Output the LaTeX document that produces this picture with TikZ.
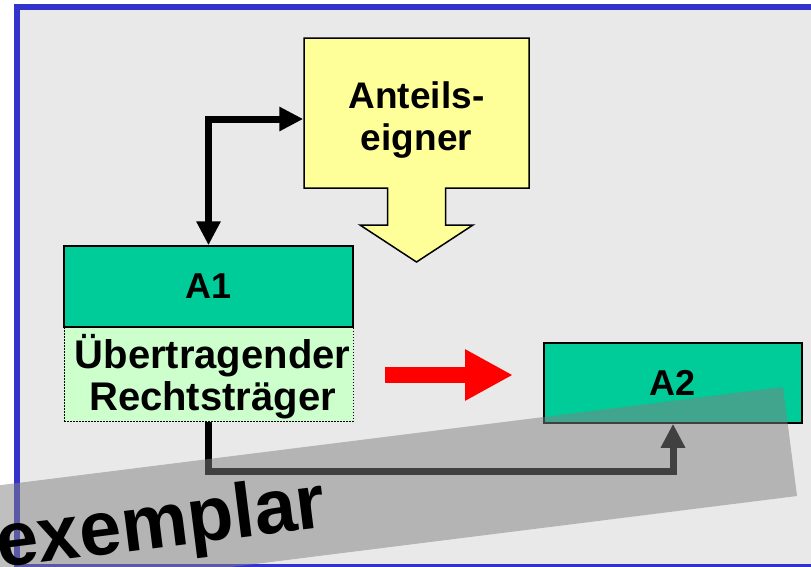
\documentclass[tikz,border=0pt]{standalone}
\usepackage{fontspec}
\setmainfont{Liberation Sans}
\usetikzlibrary{arrows.meta,calc}

\definecolor{frameblue}{HTML}{3333CC}
\definecolor{panelgray}{HTML}{E9E9E9}
\definecolor{boxgreen}{HTML}{00CC99}
\definecolor{palegreen}{HTML}{CCFFCC}
\definecolor{paleyellow}{HTML}{FFFF99}

\tikzset{
  entity/.style={draw=black, line width=1.5pt, fill=boxgreen, inner sep=0pt,
    outer sep=0.75pt, font=\fontsize{36}{42}\selectfont\bfseries},
  holder/.style={draw=black, line width=1pt, dash pattern=on 1.5pt off 1.5pt,
    fill=palegreen, inner sep=0pt, outer sep=0.5pt},
  biglabel/.style={inner sep=0pt, align=center,
    font=\fontsize{40}{42}\selectfont\bfseries},
  calloutbox/.style={fill=paleyellow, draw=black, line width=1.5pt, line join=miter},
  calloutlabel/.style={inner sep=0pt, align=center,
    font=\fontsize{37}{42}\selectfont\bfseries},
  conn/.style={draw=black, line width=7pt, line join=miter},
  fat/.tip={Triangle[length=24pt, width=23pt]},
  transfer/.style={draw=red, line width=16pt, -{Triangle[length=48pt, width=48pt]}},
  band/.style={fill=black!50, opacity=0.5},
  stamp/.style={inner sep=0pt, font=\fontsize{77}{77}\selectfont\bfseries}
}

\begin{document}
\begin{tikzpicture}[x=1pt, y=-1pt]
  \useasboundingbox (0,0) rectangle (811,566);
  \fill[white] (0,0) rectangle (811,566);
  \begin{scope}
    \clip (0,0) rectangle (811,566);

    % panel with blue frame (right edge runs off the page)
    \draw[frameblue, line width=6pt, fill=panelgray] (17,7) rectangle (840,567);

    % shareholder callout with downward arrow
    \draw[calloutbox] (304,38) -- (529,38) -- (529,188) -- (445.5,188)
      -- (445.5,225) -- (473,225) -- (416.5,262) -- (360,225) -- (387.5,225)
      -- (387.5,188) -- (304,188) -- cycle;
    \node[inner sep=0pt, outer sep=0.75pt, minimum width=225pt, minimum height=150pt]
      (ant) at (416.5,113) {};
    \node[calloutlabel] (antlabel) at ([yshift=-7pt]ant.center) {Anteils-\\eigner};

    % entities
    \node[holder, minimum width=289pt, minimum height=94pt] (tr) at (208.5,374) {};
    \node[biglabel] (trlabel) at ([xshift=4pt, yshift=-3pt]tr.center)
      {Übertragender\\Rechtsträger};
    \node[entity, minimum width=289pt, minimum height=81pt] (a1)
      at (208.5,286.5) {A1};
    \node[entity, minimum width=258pt, minimum height=80pt] (a2)
      at (673,383) {A2};

    % connectors
    \draw[conn, fat-fat] (a1.north) |- ([yshift=-6pt]ant.west);
    \draw[conn, -fat] (tr.south) -- ++(0,50) -| (a2.south);

    % transfer arrow
    \coordinate (ts) at (385,375);
    \coordinate (te) at (513,375);
    \draw[transfer] (ts) -- (te);

    % watermark band and label
    \fill[band] (-110,499) -- (783,387) -- (797,496) -- (-96,608) -- cycle;
    \node[stamp, rotate=7.15, anchor=base west] (wm) at (-1,568)
      {\scalebox{0.98}[1]{exemplar}};
  \end{scope}
\end{tikzpicture}
\end{document}
